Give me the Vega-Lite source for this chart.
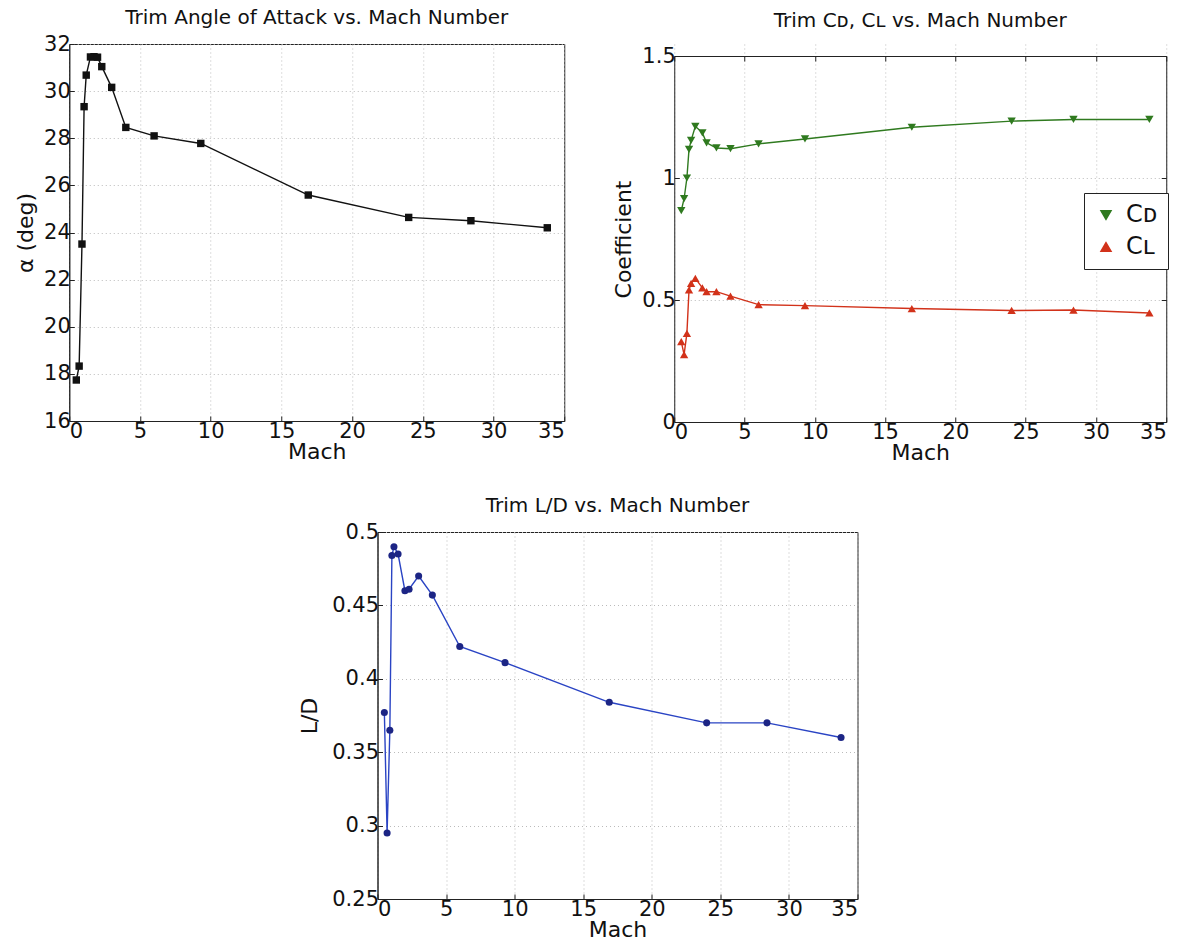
{
  "$schema": "https://vega.github.io/schema/vega-lite/v6.json",
  "background": "white",
  "padding": {"left": 14, "top": 7, "right": 0, "bottom": 0},
  "datasets": {
    "alpha": [
      {"Mach": 0.5, "alpha": 17.74},
      {"Mach": 0.7, "alpha": 18.33},
      {"Mach": 0.9, "alpha": 23.51},
      {"Mach": 1.05, "alpha": 29.34},
      {"Mach": 1.2, "alpha": 30.68},
      {"Mach": 1.5, "alpha": 31.45},
      {"Mach": 1.75, "alpha": 31.46},
      {"Mach": 2.0, "alpha": 31.44},
      {"Mach": 2.3, "alpha": 31.04},
      {"Mach": 3.0, "alpha": 30.16},
      {"Mach": 4.0, "alpha": 28.46},
      {"Mach": 6.0, "alpha": 28.1},
      {"Mach": 9.3, "alpha": 27.78},
      {"Mach": 16.9, "alpha": 25.59},
      {"Mach": 24.0, "alpha": 24.64},
      {"Mach": 28.4, "alpha": 24.5},
      {"Mach": 33.8, "alpha": 24.2}
    ],
    "coef": [
      {"Mach": 0.5, "series": "CD", "value": 0.866},
      {"Mach": 0.7, "series": "CD", "value": 0.915},
      {"Mach": 0.9, "series": "CD", "value": 1.0},
      {"Mach": 1.05, "series": "CD", "value": 1.117},
      {"Mach": 1.2, "series": "CD", "value": 1.154},
      {"Mach": 1.5, "series": "CD", "value": 1.212},
      {"Mach": 2.0, "series": "CD", "value": 1.185},
      {"Mach": 2.3, "series": "CD", "value": 1.144},
      {"Mach": 3.0, "series": "CD", "value": 1.123},
      {"Mach": 4.0, "series": "CD", "value": 1.12},
      {"Mach": 6.0, "series": "CD", "value": 1.14},
      {"Mach": 9.3, "series": "CD", "value": 1.16},
      {"Mach": 16.9, "series": "CD", "value": 1.208},
      {"Mach": 24.0, "series": "CD", "value": 1.233},
      {"Mach": 28.4, "series": "CD", "value": 1.24},
      {"Mach": 33.8, "series": "CD", "value": 1.24},
      {"Mach": 0.5, "series": "CL", "value": 0.329},
      {"Mach": 0.7, "series": "CL", "value": 0.276},
      {"Mach": 0.9, "series": "CL", "value": 0.363},
      {"Mach": 1.05, "series": "CL", "value": 0.541},
      {"Mach": 1.2, "series": "CL", "value": 0.568},
      {"Mach": 1.5, "series": "CL", "value": 0.589},
      {"Mach": 2.0, "series": "CL", "value": 0.55},
      {"Mach": 2.3, "series": "CL", "value": 0.534},
      {"Mach": 3.0, "series": "CL", "value": 0.534},
      {"Mach": 4.0, "series": "CL", "value": 0.516},
      {"Mach": 6.0, "series": "CL", "value": 0.481},
      {"Mach": 9.3, "series": "CL", "value": 0.477},
      {"Mach": 16.9, "series": "CL", "value": 0.465},
      {"Mach": 24.0, "series": "CL", "value": 0.457},
      {"Mach": 28.4, "series": "CL", "value": 0.459},
      {"Mach": 33.8, "series": "CL", "value": 0.447}
    ],
    "ld": [
      {"Mach": 0.5, "LD": 0.377},
      {"Mach": 0.7, "LD": 0.295},
      {"Mach": 0.9, "LD": 0.365},
      {"Mach": 1.05, "LD": 0.484},
      {"Mach": 1.2, "LD": 0.49},
      {"Mach": 1.5, "LD": 0.485},
      {"Mach": 2.0, "LD": 0.46},
      {"Mach": 2.3, "LD": 0.461},
      {"Mach": 3.0, "LD": 0.47},
      {"Mach": 4.0, "LD": 0.457},
      {"Mach": 6.0, "LD": 0.422},
      {"Mach": 9.3, "LD": 0.411},
      {"Mach": 16.9, "LD": 0.384},
      {"Mach": 24.0, "LD": 0.37},
      {"Mach": 28.4, "LD": 0.37},
      {"Mach": 33.8, "LD": 0.36}
    ]
  },
  "config": {
    "font": "DejaVu Sans",
    "view": {"stroke": "#222", "strokeWidth": 1},
    "title": {"font": "DejaVu Sans", "fontSize": 20, "fontWeight": "normal", "color": "#111", "offset": 5},
    "axis": {
      "labelFont": "DejaVu Sans", "labelFontSize": 21, "labelColor": "#111",
      "titleFont": "DejaVu Sans", "titleFontSize": 22, "titleFontWeight": "normal", "titleColor": "#111",
      "domainColor": "#222", "tickColor": "#222", "tickSize": -5, "labelPadding": 4,
      "grid": true, "gridColor": "#bbbbbb", "gridDash": [1, 3], "gridWidth": 1,
      "titlePadding": 0
    },
    "axisY": {"titlePadding": 6}
  },
  "spacing": 32,
  "center": true,
  "vconcat": [
    {
      "spacing": 47,
      "hconcat": [
        {
          "width": 495,
          "height": 377,
          "title": "Trim Angle of Attack vs. Mach Number",
          "data": {"name": "alpha"},
          "mark": {"type": "line", "color": "#111", "strokeWidth": 1.4, "point": {"shape": "square", "filled": true, "size": 55, "color": "#111"}},
          "encoding": {
            "x": {"field": "Mach", "type": "quantitative", "scale": {"domain": [0, 35], "nice": false}, "axis": {"values": [0, 5, 10, 15, 20, 25, 30, 35], "title": "Mach"}},
            "y": {"field": "alpha", "type": "quantitative", "scale": {"domain": [16, 32], "nice": false, "zero": false}, "axis": {"values": [16, 18, 20, 22, 24, 26, 28, 30, 32], "title": "α (deg)"}}
          }
        },
        {
          "width": 492,
          "height": 378,
          "view": {"stroke": null},
          "title": {"text": "Trim Cᴅ, Cʟ vs. Mach Number", "dy": -8},
          "data": {"name": "coef"},
          "resolve": {"axis": {"x": "independent", "y": "independent"}},
          "encoding": {
            "color": {"field": "series", "type": "nominal", "scale": {"domain": ["CD", "CL"], "range": ["#2f7a1f", "#d2321a"]},
              "legend": {"orient": "none", "legendX": 1015, "legendY": 149, "title": null, "labelExpr": "datum.label == 'CD' ? 'Cᴅ' : 'Cʟ'", "labelFontSize": 24, "labelFont": "DejaVu Sans", "strokeColor": "#222", "fillColor": "white", "padding": 10, "rowPadding": 8, "symbolSize": 100, "labelOffset": 8, "labelColor": "#111"}}
          },
          "layer": [
            {"mark": {"type": "line", "strokeWidth": 1.4},
             "encoding": {
               "x": {"field": "Mach", "type": "quantitative", "scale": {"domain": [0, 35], "nice": false}, "axis": {"values": [0, 5, 10, 15, 20, 25, 30, 35], "title": "Mach"}},
               "y": {"field": "value", "type": "quantitative", "scale": {"domain": [0, 1.5], "nice": false, "range": [378, 12]}, "axis": {"values": [0, 0.5, 1, 1.5], "title": "Coefficient", "format": "~g"}}
             }},
            {"mark": {"type": "point", "filled": true, "size": 70, "opacity": 1},
             "encoding": {
               "x": {"field": "Mach", "type": "quantitative", "axis": {"orient": "top", "offset": -12, "domain": true, "domainColor": "#222", "domainWidth": 1, "values": [0, 5, 10, 15, 20, 25, 30, 35], "labels": false, "grid": false, "title": null}},
               "y": {"field": "value", "type": "quantitative", "axis": {"orient": "right", "domain": true, "domainColor": "#222", "values": [0, 0.5, 1, 1.5], "labels": false, "grid": false, "title": null}},
               "shape": {"field": "series", "type": "nominal", "scale": {"domain": ["CD", "CL"], "range": ["triangle-down", "triangle-up"]},
               "legend": {"orient": "none", "legendX": 1015, "legendY": 149, "title": null, "labelExpr": "datum.label == 'CD' ? 'Cᴅ' : 'Cʟ'", "labelFontSize": 24, "labelFont": "DejaVu Sans", "strokeColor": "#222", "fillColor": "white", "padding": 10, "rowPadding": 8, "symbolSize": 100, "labelOffset": 8, "labelColor": "#111"}}}}
          ]
        }
      ]
    },
    {
      "width": 480,
      "height": 367,
      "title": "Trim L/D vs. Mach Number",
      "data": {"name": "ld"},
      "encoding": {
        "x": {"field": "Mach", "type": "quantitative", "scale": {"domain": [0, 35], "nice": false}, "axis": {"values": [0, 5, 10, 15, 20, 25, 30, 35], "title": "Mach"}},
        "y": {"field": "LD", "type": "quantitative", "scale": {"domain": [0.25, 0.5], "nice": false, "zero": false}, "axis": {"values": [0.25, 0.3, 0.35, 0.4, 0.45, 0.5], "title": "L/D", "format": "~g", "titlePadding": 10}}
      },
      "layer": [
        {"mark": {"type": "line", "color": "#2a44c4", "strokeWidth": 1.4}},
        {"mark": {"type": "circle", "color": "#1c2585", "size": 50, "opacity": 1}}
      ]
    }
  ]
}
